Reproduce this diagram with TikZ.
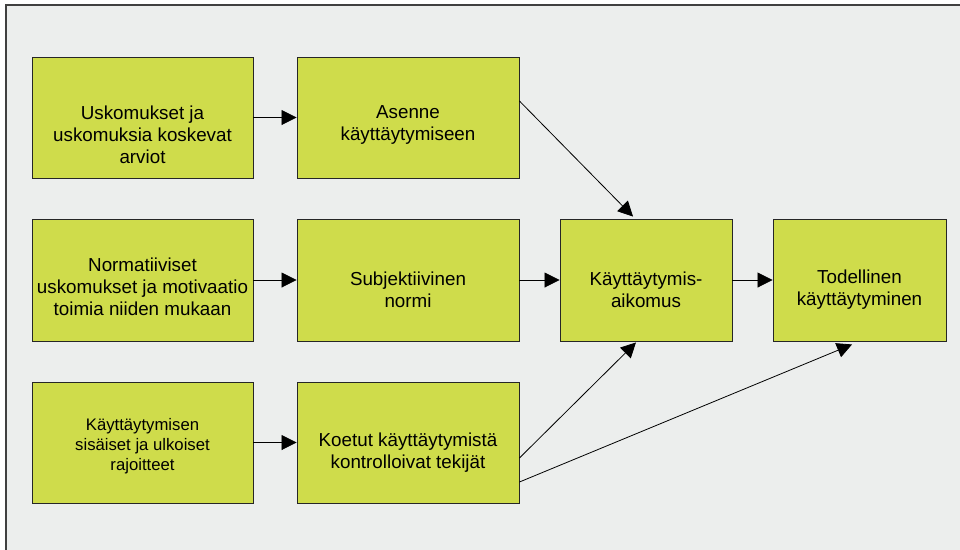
\documentclass[tikz,border=0pt]{standalone}
\usepackage{fontspec}
\setmainfont{Liberation Sans}
\usepackage{tikz}
\usetikzlibrary{arrows.meta, calc}

\definecolor{panelgray}{HTML}{ECEEED}
\definecolor{boxgreen}{HTML}{CFDC4B}

\begin{document}
\begin{tikzpicture}[
    x=1pt, y=-1pt,
    box/.style={draw=black!85, line width=0.9pt, fill=boxgreen, inner sep=0pt},
    boxtext/.style={align=center, font=\fontsize{18.8}{22}\selectfont},
    smalltext/.style={align=center, font=\fontsize{16.7}{20}\selectfont},
    arrow/.style={-{Triangle[length=15pt, width=15pt]}, line width=0.8pt}
]
    \useasboundingbox (0,0) rectangle (960,549);

    % Panel
    \draw[fill=panelgray, draw=black!75, line width=1.5pt] (6,5) rectangle (975,565);

    % Row 1
    \node[box, minimum width=221pt, minimum height=121pt,
        label={[boxtext, yshift=-17pt]center:Uskomukset ja\\uskomuksia koskevat\\arviot}]
        (beliefs) at (142.5,117.5) {};
    \node[box, minimum width=222pt, minimum height=121pt,
        label={[boxtext, yshift=-7pt]center:Asenne\\käyttäytymiseen}]
        (attitude) at (408,117.5) {};

    % Row 2
    \node[box, minimum width=221pt, minimum height=122pt,
        label={[boxtext, yshift=-7pt]center:Normatiiviset\\uskomukset ja motivaatio\\toimia niiden mukaan}]
        (normbeliefs) at (142.5,280) {};
    \node[box, minimum width=222pt, minimum height=122pt,
        label={[boxtext, yshift=-10pt]center:Subjektiivinen\\normi}]
        (norm) at (408,280) {};
    \node[box, minimum width=172pt, minimum height=122pt,
        label={[boxtext, yshift=-10pt]center:Käyttäytymis-\\aikomus}]
        (intention) at (646,280) {};
    \node[box, minimum width=173pt, minimum height=122pt,
        label={[boxtext, yshift=-10pt]center:Todellinen\\käyttäytyminen}]
        (behaviour) at (859.5,280) {};

    % Row 3
    \node[box, minimum width=221pt, minimum height=121pt,
        label={[smalltext, yshift=-3.5pt]center:Käyttäytymisen\\sisäiset ja ulkoiset\\rajoitteet}]
        (limits) at (142.5,442.5) {};
    \node[box, minimum width=222pt, minimum height=121pt,
        label={[boxtext, yshift=-10pt]center:Koetut käyttäytymistä\\kontrolloivat tekijät}]
        (control) at (408,442.5) {};

    % Connector ends
    \coordinate (attOut) at ($(attitude.east)+(0,-16.5)$);
    \coordinate (intIn) at ($(intention.north)+(-13,-2)$);
    \coordinate (ctrlOutA) at ($(control.east)+(0,15.5)$);
    \coordinate (ctrlOutB) at ($(control.east)+(0,39.5)$);
    \coordinate (intInB) at ($(intention.south)+(-10,1)$);
    \coordinate (behIn) at ($(behaviour.south)+(-7.5,3)$);

    % Arrows
    \draw[arrow] (beliefs.east) -- (attitude.west);
    \draw[arrow] (attOut) -- (intIn);
    \draw[arrow] (normbeliefs.east) -- (norm.west);
    \draw[arrow] (norm.east) -- (intention.west);
    \draw[arrow] (intention.east) -- (behaviour.west);
    \draw[arrow] (limits.east) -- (control.west);
    \draw[arrow] (ctrlOutA) -- (intInB);
    \draw[arrow] (ctrlOutB) -- (behIn);

\end{tikzpicture}
\end{document}
